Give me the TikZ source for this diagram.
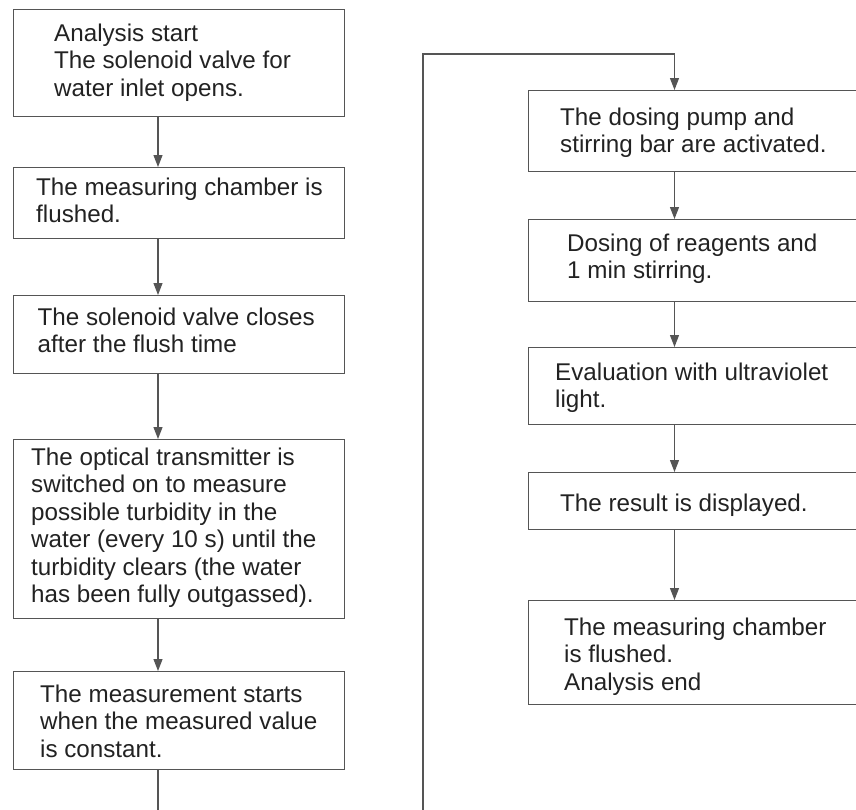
\documentclass[tikz,border=0pt]{standalone}
\usepackage{fontspec}
\setmainfont{Liberation Sans}
\usetikzlibrary{arrows.meta}
\definecolor{linec}{HTML}{555555}
\definecolor{textc}{HTML}{222222}
\tikzset{
  box/.style={draw=linec, line width=1.2pt, rectangle, inner sep=0pt, anchor=north west},
  txt/.style={anchor=north west, inner sep=0pt, align=left, text=textc,
    font=\fontsize{24.2}{27.5}\selectfont},
  flow/.style={draw=linec, line width=1.2pt, -{Triangle[length=12pt,width=9pt]}},
  wire/.style={draw=linec, line width=1.2pt}
}
\newcommand{\ft}{\strut}
\begin{document}
\begin{tikzpicture}[x=1pt,y=-1pt]
\useasboundingbox (0,0) rectangle (856,809);
\clip (0,0) rectangle (856,809);
% left column boxes
\node[box, minimum width=331pt, minimum height=106.5pt] (b1) at (13,9) {};
\node[box, minimum width=331pt, minimum height=71pt] (b2) at (13,167) {};
\node[box, minimum width=331pt, minimum height=78pt] (b3) at (13,295) {};
\node[box, minimum width=331pt, minimum height=179pt] (b4) at (13,439) {};
\node[box, minimum width=331pt, minimum height=98pt] (b5) at (13,671) {};
% right column boxes (cut off at right edge)
\node[box, minimum width=345pt, minimum height=81pt] (b6) at (528,90) {};
\node[box, minimum width=345pt, minimum height=82pt] (b7) at (528,219) {};
\node[box, minimum width=345pt, minimum height=77pt] (b8) at (528,347) {};
\node[box, minimum width=345pt, minimum height=57pt] (b9) at (528,472) {};
\node[box, minimum width=345pt, minimum height=104pt] (b10) at (528,600) {};
% texts (y = first baseline - strut height 19.25)
\node[txt] (t1) at (54,21.8) {\ft Analysis start\\The solenoid valve for\\water inlet opens.};
\node[txt] (t2) at (36,175.8) {\ft The measuring chamber is\\flushed.};
\node[txt] (t3) at (37.5,305.8) {\ft The solenoid valve closes\\after the flush time};
\node[txt] (t4) at (31,445.8) {\ft The optical transmitter is\\switched on to measure\\possible turbidity in the\\water (every 10 s) until the\\turbidity clears (the water\\has been fully outgassed).};
\node[txt] (t5) at (40,682.8) {\ft The measurement starts\\when the measured value\\is constant.};
\node[txt] (t6) at (560,105.8) {\ft The dosing pump and\\stirring bar are activated.};
\node[txt] (t7) at (567,231.8) {\ft Dosing of reagents and\\1 min stirring.};
\node[txt] (t8) at (555,360.8) {\ft Evaluation with ultraviolet\\light.};
\node[txt] (t9) at (560,491.8) {\ft The result is displayed.};
\node[txt] (t10) at (564,615.8) {\ft The measuring chamber\\is flushed.\\Analysis end};
% connectors left
\coordinate (lx) at (158,0);
\draw[flow] (b1.south -| lx) -- (b2.north -| lx);
\draw[flow] (b2.south -| lx) -- (b3.north -| lx);
\draw[flow] (b3.south -| lx) -- (b4.north -| lx);
\draw[flow] (b4.south -| lx) -- (b5.north -| lx);
\coordinate (lend) at (158,830);
\draw[wire] (b5.south -| lx) -- (lend);
% loop line
\coordinate (rx) at (674.5,0);
\coordinate (rstart) at (423,830);
\coordinate (rtop) at (423,54);
\draw[flow] (rstart) -- (rtop) -| (b6.north -| rx);
% connectors right
\draw[flow] (b6.south -| rx) -- (b7.north -| rx);
\draw[flow] (b7.south -| rx) -- (b8.north -| rx);
\draw[flow] (b8.south -| rx) -- (b9.north -| rx);
\draw[flow] (b9.south -| rx) -- (b10.north -| rx);
\end{tikzpicture}
\end{document}
